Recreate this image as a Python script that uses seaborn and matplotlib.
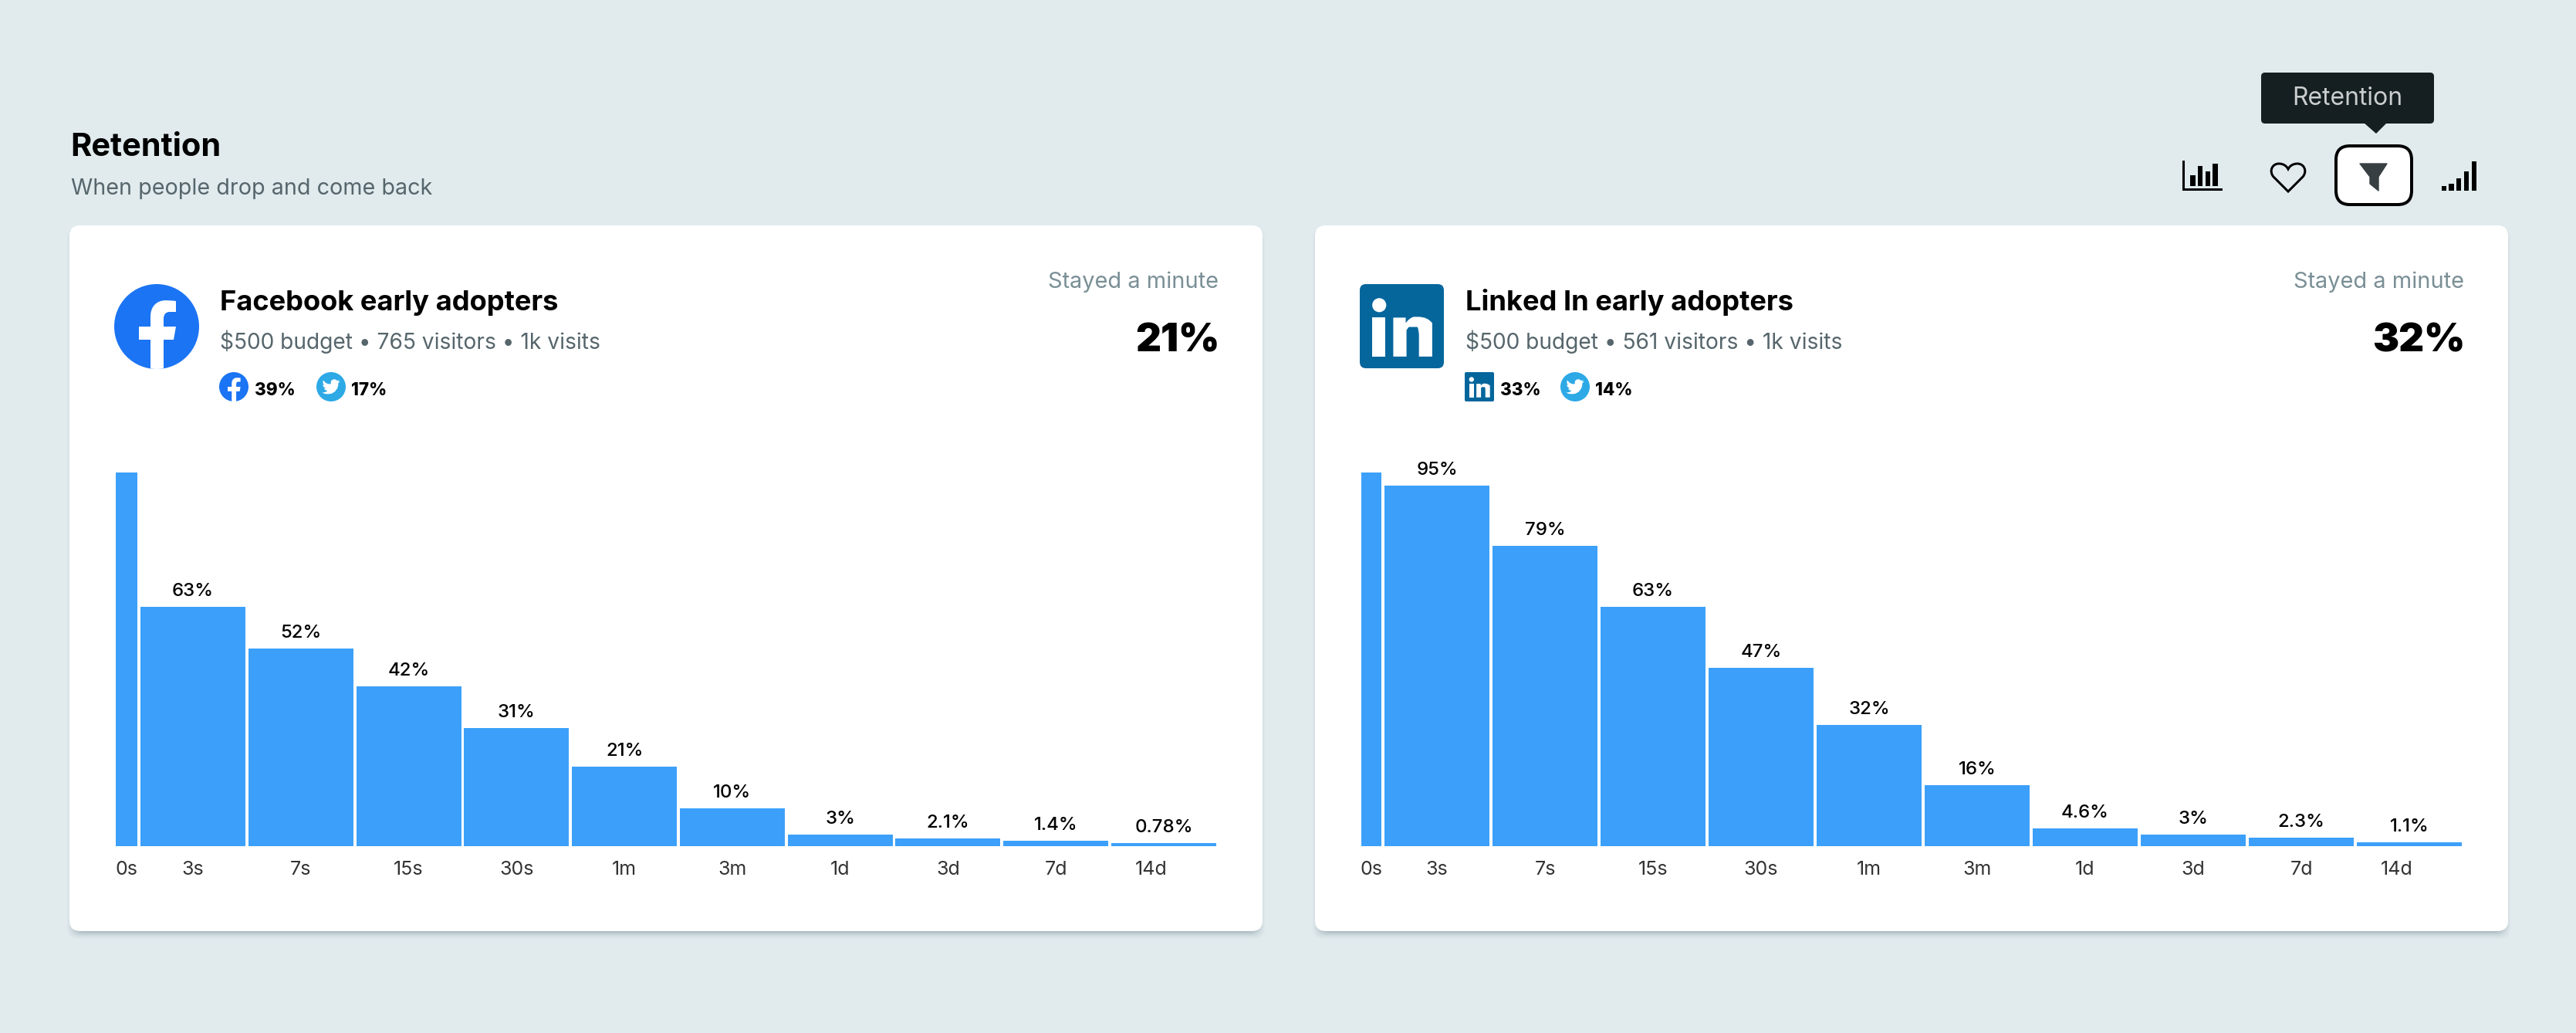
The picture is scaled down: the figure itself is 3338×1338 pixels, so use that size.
import matplotlib
matplotlib.use("Agg")
import matplotlib.pyplot as plt
from matplotlib.patches import FancyBboxPatch, Circle, PathPatch, Polygon, Rectangle
from matplotlib.path import Path
import pandas as pd
import seaborn as sns

# ---- data ----
time_labels = ["0s", "3s", "7s", "15s", "30s", "1m", "3m", "1d", "3d", "7d", "14d"]
facebook_start = 98.4
facebook_values = [63, 52, 42, 31, 21, 10, 3, 2.1, 1.4, 0.78]
facebook_labels = ["63%", "52%", "42%", "31%", "21%", "10%", "3%", "2.1%", "1.4%", "0.78%"]
linkedin_start = 98.4
linkedin_values = [95, 79, 63, 47, 32, 16, 4.6, 3, 2.3, 1.1]
linkedin_labels = ["95%", "79%", "63%", "47%", "32%", "16%", "4.6%", "3%", "2.3%", "1.1%"]

# ---- palette and type ----
BG = "#E1EBEE"
BAR = "#3CA0FA"
FB_BLUE = "#1B74F3"
TW_BLUE = "#2DA9E6"
LI_BLUE = "#05669C"
GREY = "#56666C"
STAT_GREY = "#7A8F96"
W, H = 3338, 1338
DPI = 100
FONT = "Inter"

sns.set_theme(style="white")
plt.rcParams["font.family"] = [FONT, "DejaVu Sans"]


def pt(px):
    return px * 72 / DPI


fig = plt.figure(figsize=(W / DPI, H / DPI), dpi=DPI, facecolor=BG)
ui = fig.add_axes([0, 0, 1, 1], zorder=0)
ui.set_xlim(0, W)
ui.set_ylim(H, 0)
ui.axis("off")


def label(x, y, s, px, color="black", weight="normal", ha="left"):
    ui.text(x, y, s, fontsize=pt(px), color=color, fontweight=weight, ha=ha, va="baseline")


def card(x0, y0, x1, y1):
    for grow, alpha in [(9, 0.025), (7, 0.035), (5, 0.05), (3, 0.07), (1, 0.09)]:
        ui.add_patch(FancyBboxPatch((x0 - grow + 6, y0 - grow + 12), x1 - x0 + 2 * grow - 12,
                                    y1 - y0 + 2 * grow - 12 + 1,
                                    boxstyle="round,pad=0,rounding_size=14", fc="#20404A",
                                    ec="none", alpha=alpha))
    ui.add_patch(FancyBboxPatch((x0, y0), x1 - x0, y1 - y0,
                                boxstyle="round,pad=0,rounding_size=14", fc="white", ec="none"))


def facebook_icon(cx, cy, r):
    disc = Circle((cx, cy), r, fc=FB_BLUE, ec="none")
    ui.add_patch(disc)
    s = r / 55
    verts = [(-8, 60), (-8, 17), (-23, 17), (-23, 0), (-8, 0), (-8, -13),
             (-8, -26), (0, -34), (12, -34), (18, -34), (25, -33), (25, -33),
             (25, -19), (17, -19), (12, -19), (9, -16), (9, -10),
             (9, 0), (25, 0), (22, 17), (9, 17), (9, 60), (-8, 60)]
    codes = [Path.MOVETO, Path.LINETO, Path.LINETO, Path.LINETO, Path.LINETO, Path.LINETO,
             Path.CURVE4, Path.CURVE4, Path.CURVE4, Path.CURVE4, Path.CURVE4, Path.CURVE4,
             Path.LINETO, Path.LINETO, Path.CURVE4, Path.CURVE4, Path.CURVE4,
             Path.LINETO, Path.LINETO, Path.LINETO, Path.LINETO, Path.LINETO, Path.CLOSEPOLY]
    glyph = PathPatch(Path([(cx + a * s, cy + b * s) for a, b in verts], codes), fc="white", ec="none")
    ui.add_patch(glyph)
    glyph.set_clip_path(disc)


def twitter_icon(cx, cy, r):
    ui.add_patch(Circle((cx, cy), r, fc=TW_BLUE, ec="none"))
    bird = [(24, 4.59), (21.13, 5.35), (23.29, 2.62), (20.16, 3.81), (18.7, 2.6), (16.9, 1.85),
            (15.0, 2.1), (13.0, 2.9), (11.9, 4.6), (11.6, 6.4), (11.78, 8.29), (7.69, 8.1),
            (4.07, 6.13), (1.64, 3.16), (0.97, 5.64), (1.4, 8.0), (3.16, 9.73), (0.93, 9.12),
            (1.6, 11.9), (4.88, 14.0), (2.67, 14.09), (3.9, 16.2), (7.27, 17.5), (4.0, 19.3),
            (1.17, 19.6), (0, 19.54), (3.3, 21.3), (7.56, 21.75), (12.5, 21.2), (17.0, 18.6),
            (20.2, 14.5), (21.55, 10.5), (21.55, 7.5), (23.0, 6.1)]
    s = r * 1.22 / 24
    ui.add_patch(Polygon([(cx + (a - 12) * s, cy + (b - 12) * s) for a, b in bird],
                         closed=True, fc="white", ec="none"))


def linkedin_icon(x0, y0, size, rounding):
    s = size / 108
    ui.add_patch(FancyBboxPatch((x0, y0), size, size, fc=LI_BLUE, ec="none",
                                boxstyle=f"round,pad=0,rounding_size={rounding}"))
    ui.add_patch(Circle((x0 + 25 * s, y0 + 27 * s), 9 * s, fc="white", ec="none"))
    ui.add_patch(Rectangle((x0 + 16 * s, y0 + 43 * s), 17 * s, 50 * s, fc="white", ec="none"))
    verts = [(43, 93), (43, 43), (59, 43), (59, 50), (63, 44), (69, 42), (75, 42),
             (87, 42), (93, 50), (93, 63), (93, 93), (76, 93), (76, 66),
             (76, 59), (74, 55), (68, 55), (63, 55), (60, 59), (60, 66), (60, 93), (43, 93)]
    codes = [Path.MOVETO, Path.LINETO, Path.LINETO, Path.LINETO, Path.CURVE3, Path.CURVE3, Path.LINETO,
             Path.CURVE3, Path.CURVE3, Path.LINETO, Path.LINETO, Path.LINETO, Path.LINETO,
             Path.CURVE3, Path.CURVE3, Path.CURVE3, Path.CURVE3, Path.LINETO, Path.LINETO, Path.LINETO,
             Path.CLOSEPOLY]
    ui.add_patch(PathPatch(Path([(x0 + a * s, y0 + b * s) for a, b in verts], codes), fc="white", ec="none"))


def retention_chart(origin, unit, first_center, first_width, start, values, value_labels):
    left, right, top, base = origin, origin + 1480, 560, 1096
    ax = fig.add_axes([left / W, 1 - base / H, (right - left) / W, (base - top) / H], zorder=2)
    ax.patch.set_alpha(0)
    positions = list(range(1, len(values) + 1))
    first = pd.DataFrame({"position": [first_center / unit], "share": [start]})
    rest = pd.DataFrame({"position": positions, "share": values})
    sns.barplot(data=first, x="position", y="share", native_scale=True, width=first_width / unit,
                color=BAR, saturation=1, errorbar=None, linewidth=0, ax=ax)
    sns.barplot(data=rest, x="position", y="share", native_scale=True, width=136 / unit,
                color=BAR, saturation=1, errorbar=None, linewidth=0, ax=ax)
    ax.set_xlim(0, (right - left) / unit)
    ax.set_ylim(0, (base - top) / 4.92)
    for pos, val, text in zip(positions, values, value_labels):
        ax.annotate(text, (pos, val), xytext=(0, 14 * 72 / DPI), textcoords="offset points",
                    ha="center", va="baseline", fontsize=pt(24), fontweight=500, color="black",
                    annotation_clip=False)
    ticks = [first_center / unit] + positions
    ticks[-1] -= 16 / unit
    ax.set_xticks(ticks, time_labels)
    ax.tick_params(axis="x", length=0, pad=pt(19), labelsize=pt(25), labelcolor="#333333")
    ax.set_yticks([])
    ax.set_xlabel("")
    ax.set_ylabel("")
    sns.despine(ax=ax, left=True, bottom=True)


# ---- page header ----
label(91, 202, "Retention", 41.5, weight="bold")
label(92, 252, "When people drop and come back", 28.7, color=GREY)

# ---- panels ----
card(90, 292, 1636, 1206)
card(1704, 292, 3250, 1206)

facebook_icon(203, 423, 55)
label(285, 402, "Facebook early adopters", 36.3, weight="bold")
label(285, 452, "$500 budget • 765 visitors • 1k visits", 28.2, color=GREY)
facebook_icon(303, 501, 19)
label(330, 512, "39%", 22.5, weight=800)
twitter_icon(429, 501, 19)
label(455, 512, "17%", 22.5, weight=800)
label(1579, 373, "Stayed a minute", 29, color=STAT_GREY, ha="right")
label(1580, 456, "21%", 51, weight=900, ha="right")

linkedin_icon(1762, 368, 109, 8)
label(1899, 402, "Linked In early adopters", 36.3, weight="bold")
label(1899, 452, "$500 budget • 561 visitors • 1k visits", 28.2, color=GREY)
linkedin_icon(1898, 482, 38, 2)
label(1944, 512, "33%", 22.5, weight=800)
twitter_icon(2041, 501, 19)
label(2067, 512, "14%", 22.5, weight=800)
label(3193, 373, "Stayed a minute", 29, color=STAT_GREY, ha="right")
label(3194, 456, "32%", 51, weight=900, ha="right")

retention_chart(110.22, 139.78, 53.78, 28, facebook_start, facebook_values, facebook_labels)
retention_chart(1722, 140, 55, 26, linkedin_start, linkedin_values, linkedin_labels)

# ---- toolbar: chart icon ----
ui.add_patch(Rectangle((2828, 208), 3, 39, fc="black", ec="none"))
ui.add_patch(Rectangle((2828, 244), 52, 3, fc="black", ec="none"))
for x0, x1, y0 in [(2838, 2845, 227), (2848, 2854, 215), (2858, 2864, 222), (2867, 2874, 212)]:
    ui.add_patch(Rectangle((x0, y0), x1 - x0, 241 - y0, fc="black", ec="none"))

# ---- toolbar: heart ----
heart = [(2965, 248), (2946, 229), (2940, 222), (2944, 212), (2953, 212), (2959, 212), (2963, 215),
         (2965, 219), (2967, 215), (2971, 212), (2977, 212), (2986, 212), (2990, 222), (2984, 229),
         (2965, 248)]
heart_codes = [Path.MOVETO, Path.LINETO] + [Path.CURVE4] * 12 + [Path.CLOSEPOLY]
ui.add_patch(PathPatch(Path(heart, heart_codes), fc="none", ec="black", lw=pt(3), joinstyle="miter"))

# ---- toolbar: selected funnel ----
ui.add_patch(FancyBboxPatch((3027, 189), 98, 76, boxstyle="round,pad=0,rounding_size=18",
                            fc="white", ec="black", lw=pt(4)))
ui.add_patch(Polygon([(3058, 212), (3093, 212), (3082, 229), (3082, 247), (3071, 238), (3071, 229)],
                     closed=True, fc="#373F42", ec="#373F42", lw=1, joinstyle="round"))

# ---- toolbar: signal bars ----
for x0, x1, y0 in [(3164, 3170, 241), (3173, 3180, 238), (3183, 3189, 231), (3193, 3199, 222), (3203, 3209, 209)]:
    ui.add_patch(Rectangle((x0, y0), x1 - x0, 247 - y0, fc="black", ec="none"))

# ---- tooltip ----
TIP = "#151E20"
ui.add_patch(FancyBboxPatch((2930, 94), 224, 66, boxstyle="round,pad=0,rounding_size=5", fc=TIP, ec="none"))
ui.add_patch(Polygon([(3063, 159), (3093, 159), (3079, 173)], closed=True, fc=TIP, ec="none"))
label(3042, 136, "Retention", 32, color="#C9CDCE", ha="center")

fig.savefig("out.png", dpi=DPI, facecolor=BG)
